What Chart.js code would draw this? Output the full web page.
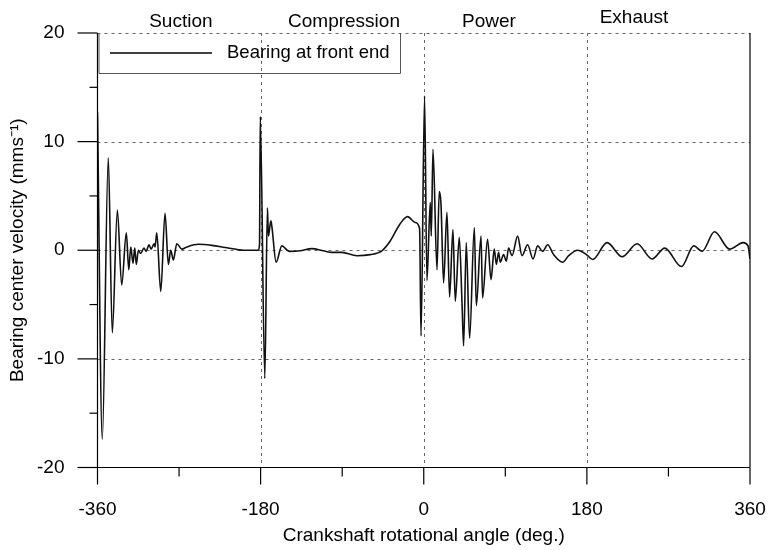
<!DOCTYPE html>
<html>
<head>
<meta charset="utf-8">
<script src="https://cdn.jsdelivr.net/npm/chart.js@4.4.1/dist/chart.umd.min.js"></script>
<style>
  html, body { margin: 0; padding: 0; background: #fff; }
  #wrap { width: 768px; height: 550px; }
</style>
</head>
<body>
<div id="wrap"><canvas id="velocityChart"></canvas></div>
<script>
// crank angle (deg) and bearing centre velocity (mm/s)
const angles = [
  -360, -354.7, -348.1, -343.7, -338.1, -333.3, -328.2, -325.5, -323.3, -320.8,
  -318.9, -317.2, -314.9, -312.3, -308.7, -306.4, -303.1, -300.9, -297.6, -296.5,
  -294.6, -290.2, -285.5, -281.8, -279.2, -276.3, -272.5, -267.0, -261.5, -248.7,
  -233.9, -219.2, -204.5, -199.0, -182.4, -181.2, -180.4, -175.4, -172.5, -171.4,
  -168.7, -167.6, -162.9, -156.6, -148.5, -136.4, -123.5, -110.7, -101.4, -90.3,
  -73.8, -59.1, -46.2, -37.0, -26.4, -17.9, -9.5, -4.6, -3.0, 0.9,
  3.5, 7.2, 8.3, 10.2, 14.6, 17.1, 19.0, 21.9, 25.6, 28.5,
  32.2, 34.8, 39.2, 42.2, 44.0, 46.9, 50.6, 55.8, 58.0, 63.2,
  64.9, 70.4, 74.2, 77.8, 80.1, 82.6, 84.5, 88.1, 91.1, 93.6,
  97.4, 103.6, 108.4, 114.6, 120.6, 125.7, 131.2, 136.7, 143.3, 153.3,
  159.9, 169.8, 179.5, 186.4, 202.3, 218.9, 235.4, 252.0, 265.9, 284.4,
  297.9, 307.2, 320.8, 337.6, 352.5, 357.8, 360
];
const velocity = [
  12.7, -17.4, 8.5, -7.6, 3.7, -3.2, 1.6, -1.8, 0.3, -1.2,
  0.2, -1.3, 0.0, -0.3, 0.2, -0.1, 0.5, 0.1, 0.6, 0.3,
  1.6, -3.8, 3.4, -1.3, 0.0, -0.9, 0.6, 0.1, 0.3, 0.55,
  0.45, 0.25, 0.05, 0.0, 0.0, 0.6, 12.3, -11.8, 3.9, 1.3,
  2.7, 2.2, -1.1, 0.4, -0.1, -0.05, 0.15, -0.05, -0.2, -0.2,
  -0.5, -0.4, -0.05, 0.85, 2.4, 3.1, 2.55, 2.0, -7.9, 14.2,
  -2.8, 4.4, 1.3, 9.3, -1.8, 5.4, 4.3, -3.0, 3.5, -4.3,
  1.9, -4.7, 1.2, -4.8, -8.8, 0.7, -8.1, 2.1, -5.1, 1.3,
  -4.4, 1.0, -2.7, 0.1, -1.3, -0.2, -1.1, -0.4, -1.0, 0.2,
  -0.5, 1.3, -0.5, 0.5, -0.8, 0.4, -0.1, 0.5, -0.4, -1.1,
  -0.5, 0.0, -0.4, -0.85, 0.7, -0.6, 0.6, -0.8, 0.2, -1.5,
  0.4, -0.1, 1.7, 0.1, 0.7, 0.4, -0.8
];
const xTicks = [-360, -180, 0, 180, 360];
const yTicks = [-20, -10, 0, 10, 20];
const phaseNames = ['Suction', 'Compression', 'Power', 'Exhaust'];
const phaseAngles = [-268, -88, 72, 232];
const seriesLabel = 'Bearing at front end';

const points = angles.map((a, i) => ({ x: a, y: velocity[i] }));
const FONT = '"Liberation Sans", Arial, sans-serif';
const INK = '#000';

// dashed grid, solid frame, outward ticks, legend box and stroke names
const framePlugin = {
  id: 'frame',
  beforeDatasetsDraw(chart) {
    const { ctx, chartArea: a, scales: { x, y } } = chart;
    ctx.save();
    ctx.strokeStyle = '#666';
    ctx.lineWidth = 1;
    ctx.setLineDash([3, 4]);
    [-10, 0, 10, 20].forEach(v => {
      const py = Math.round(y.getPixelForValue(v)) + 0.5;
      ctx.beginPath(); ctx.moveTo(a.left, py); ctx.lineTo(a.right, py); ctx.stroke();
    });
    [-180, 0, 180].forEach(v => {
      const px = Math.round(x.getPixelForValue(v)) + 0.5;
      ctx.beginPath(); ctx.moveTo(px, a.top); ctx.lineTo(px, a.bottom); ctx.stroke();
    });
    ctx.restore();
  },
  afterDatasetsDraw(chart) {
    const { ctx, chartArea: a, scales: { x, y } } = chart;
    ctx.save();
    ctx.strokeStyle = INK;
    ctx.lineWidth = 1.2;
    ctx.beginPath();
    ctx.moveTo(a.left, a.top); ctx.lineTo(a.left, a.bottom); ctx.lineTo(a.right, a.bottom);
    ctx.moveTo(a.right, a.top); ctx.lineTo(a.right, a.bottom);
    ctx.stroke();

    // y ticks every 5, long at every 10
    for (let v = -20; v <= 20; v += 5) {
      const py = y.getPixelForValue(v);
      const len = v % 10 === 0 ? 20 : 8;
      ctx.beginPath(); ctx.moveTo(a.left - len, py); ctx.lineTo(a.left, py); ctx.stroke();
    }
    // x ticks every 90, long at every 180
    for (let v = -360; v <= 360; v += 90) {
      const px = x.getPixelForValue(v);
      const len = v % 180 === 0 ? 17 : 9;
      ctx.beginPath(); ctx.moveTo(px, a.bottom); ctx.lineTo(px, a.bottom + len); ctx.stroke();
    }

    // legend
    const lx0 = a.left + 1.5, lx1 = 400.5, ly1 = 73.5;
    ctx.strokeStyle = '#555';
    ctx.lineWidth = 1;
    ctx.beginPath();
    ctx.moveTo(lx0, a.top); ctx.lineTo(lx0, ly1); ctx.lineTo(lx1, ly1); ctx.lineTo(lx1, a.top);
    ctx.stroke();
    ctx.strokeStyle = INK;
    ctx.lineWidth = 1.5;
    ctx.beginPath(); ctx.moveTo(110, 53); ctx.lineTo(212, 53); ctx.stroke();
    ctx.fillStyle = INK;
    ctx.font = '18.5px ' + FONT;
    ctx.textBaseline = 'middle';
    ctx.textAlign = 'left';
    ctx.fillText(seriesLabel, 227, 53);

    // stroke names above the frame
    ctx.font = '19px ' + FONT;
    ctx.textAlign = 'center';
    phaseNames.forEach((name, i) => {
      ctx.fillText(name, x.getPixelForValue(phaseAngles[i]), i === 3 ? 18 : 22);
    });
    ctx.restore();
  }
};

new Chart(document.getElementById('velocityChart'), {
  type: 'scatter',
  data: {
    datasets: [{
      label: seriesLabel,
      data: points,
      showLine: true,
      borderColor: '#111',
      borderWidth: 1.6,
      pointRadius: 0,
      cubicInterpolationMode: 'monotone'
    }]
  },
  options: {
    responsive: true,
    maintainAspectRatio: false,
    animation: false,
    layout: { padding: { top: 33, right: 18, left: 0, bottom: 0 } },
    plugins: { legend: { display: false }, tooltip: { enabled: false } },
    scales: {
      x: {
        type: 'linear',
        min: -360,
        max: 360,
        grid: { display: false },
        border: { display: false },
        afterBuildTicks: s => { s.ticks = xTicks.map(v => ({ value: v })); },
        afterFit: s => { s.height = 82.5; s.paddingLeft = 0; s.paddingRight = 0; },
        ticks: { color: INK, padding: 23, maxRotation: 0, font: { family: FONT, size: 19 } },
        title: {
          display: true,
          text: 'Crankshaft rotational angle (deg.)',
          color: INK,
          font: { family: FONT, size: 19 },
          padding: { top: 0, bottom: 3 }
        }
      },
      y: {
        min: -20,
        max: 20,
        grid: { display: false },
        border: { display: false },
        afterBuildTicks: s => { s.ticks = yTicks.map(v => ({ value: v })); },
        afterFit: s => { s.width = 97.5; s.paddingTop = 0; s.paddingBottom = 0; },
        ticks: { color: INK, padding: 25, font: { family: FONT, size: 19 } },
        title: {
          display: true,
          text: 'Bearing center velocity (mms⁻¹)',
          color: INK,
          font: { family: FONT, size: 19 },
          padding: { top: 6, bottom: 0 }
        }
      }
    }
  },
  plugins: [framePlugin]
});
</script>
</body>
</html>
